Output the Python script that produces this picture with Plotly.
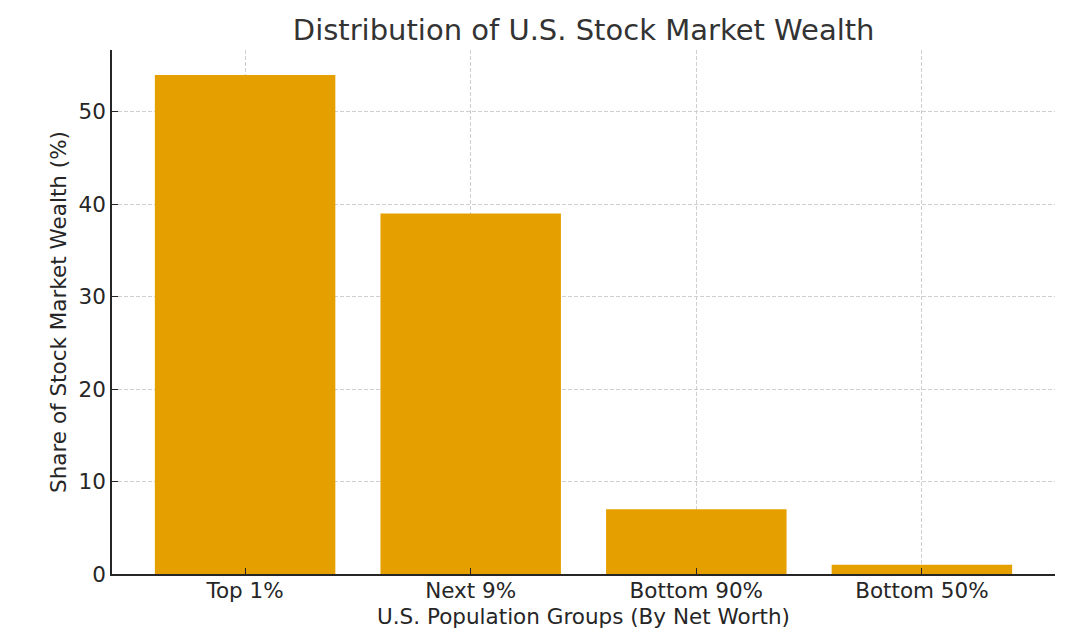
import plotly.graph_objects as go

# Andmed
groups = ["Top 1%", "Next 9%", "Bottom 90%", "Bottom 50%"]
shares = [54, 39, 7, 1]
y_ticks = [0, 10, 20, 30, 40, 50]

fig = go.Figure(
    go.Bar(
        x=list(range(len(groups))),
        y=shares,
        width=0.8,
        marker_color="#E5A000",
        marker_line_width=0,
    )
)

# Ühised telje seaded (matplotlibi stiil)
axis_common = dict(
    showline=True,
    linecolor="#262626",
    linewidth=1.5,
    ticks="inside",
    ticklen=6,
    tickwidth=1.2,
    tickcolor="#262626",
    tickfont=dict(size=21.5, color="#262626"),
    showgrid=True,
    gridcolor="#CFCFCF",
    griddash="4px,2px",
    gridwidth=0.8,
    zeroline=False,
    layer="above traces",
    title_font=dict(size=21.5, color="#262626"),
)

fig.update_xaxes(
    axis_common,
    tickvals=list(range(len(groups))),
    ticktext=groups,
    range=[-0.59, 3.59],
    ticklabelstandoff=-4,
    title_text="U.S. Population Groups (By Net Worth)",
    title_standoff=7,
)
fig.update_yaxes(
    axis_common,
    tickvals=y_ticks,
    range=[0, 56.7],
    title_text="Share of Stock Market Wealth (%)",
    title_standoff=6,
)

# Lehel on 8px äär, seega joonis on 1072x628
fig.update_layout(
    width=1072,
    height=628,
    font_family="DejaVu Sans",
    title=dict(
        text="Distribution of U.S. Stock Market Wealth",
        x=0.537,
        xanchor="center",
        y=0.965,
        yanchor="middle",
        font=dict(size=29, color="#333333"),
    ),
    plot_bgcolor="white",
    paper_bgcolor="white",
    margin=dict(l=104, r=25, t=42, b=62),
    showlegend=False,
)

fig.write_html("out.html")
